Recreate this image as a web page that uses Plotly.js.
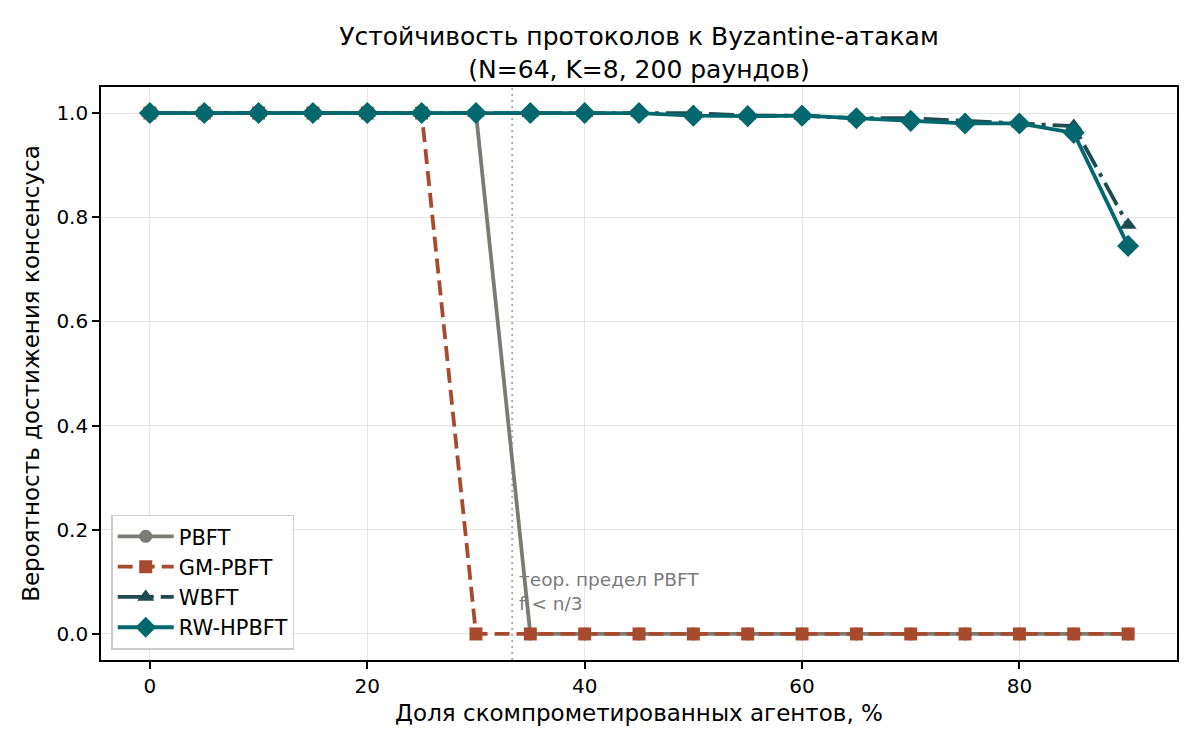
<!DOCTYPE html>
<html>
<head>
<meta charset="utf-8">
<script src="https://cdn.plot.ly/plotly-3.0.1.min.js"></script>
<style>
  html, body { margin: 0; padding: 0; background: #fff; }
  #chart { width: 1200px; height: 750px; }
</style>
</head>
<body>
<div id="chart"></div>
<script>
// share of compromised agents, %
var attackShare = [0, 5, 10, 15, 20, 25, 30, 35, 40, 45, 50, 55, 60, 65, 70, 75, 80, 85, 90];

// consensus probability per protocol
var pbft    = [1, 1, 1, 1, 1, 1, 1, 0, 0, 0, 0, 0, 0, 0, 0, 0, 0, 0, 0];
var gmPbft  = [1, 1, 1, 1, 1, 1, 0, 0, 0, 0, 0, 0, 0, 0, 0, 0, 0, 0, 0];
var wbft    = [1, 1, 1, 1, 1, 1, 1, 1, 1, 1, 1.0, 0.995, 0.995, 0.99, 0.99, 0.985, 0.98, 0.975, 0.785];
var rwHpbft = [1, 1, 1, 1, 1, 1, 1, 1, 1, 1, 0.995, 0.994, 0.995, 0.99, 0.985, 0.98, 0.98, 0.962, 0.745];

var pbftLimit = 100 / 3;

var FONT = "DejaVu Sans, Verdana, sans-serif";
var LW = 3.8;

var traces = [
  { name: "PBFT", x: attackShare, y: pbft, type: "scatter", mode: "lines+markers",
    line: { color: "#7b7b74", width: LW },
    marker: { symbol: "circle", size: 13, color: "#7b7b74" } },
  { name: "GM-PBFT", x: attackShare, y: gmPbft, type: "scatter", mode: "lines+markers",
    line: { color: "#a84a2e", width: LW, dash: "15px,7px" },
    marker: { symbol: "square", size: 13, color: "#a84a2e" } },
  { name: "WBFT", x: attackShare, y: wbft, type: "scatter", mode: "lines+markers",
    line: { color: "#1e4a50", width: LW, dash: "25px,7px,4px,7px" },
    marker: { symbol: "triangle-up", size: 15, color: "#1e4a50" } },
  { name: "RW-HPBFT", x: attackShare, y: rwHpbft, type: "scatter", mode: "lines+markers",
    line: { color: "#02686d", width: LW },
    marker: { symbol: "diamond", size: 17, color: "#02686d" } }
];

var axisCommon = {
  showline: true, linecolor: "#000", linewidth: 1.6, mirror: true,
  ticks: "outside", ticklen: 7, tickwidth: 1.6, tickcolor: "#000",
  showgrid: true, gridcolor: "#e6e6e6", gridwidth: 1.4,
  zeroline: false,
  tickfont: { family: FONT, size: 20, color: "#000" }
};

var layout = {
  width: 1200, height: 750,
  paper_bgcolor: "#fff", plot_bgcolor: "#fff",
  margin: { l: 101, r: 23, t: 87, b: 90 },
  font: { family: FONT, color: "#000" },
  title: {
    text: "Устойчивость протоколов к Byzantine-атакам<br>(N=64, K=8, 200 раундов)",
    font: { family: FONT, size: 25, color: "#000" },
    xref: "paper", x: 0.5, xanchor: "center", y: 0.94, yanchor: "top"
  },
  xaxis: Object.assign({}, axisCommon, {
    range: [-4.5, 94.5], tickvals: [0, 20, 40, 60, 80],
    title: { text: "Доля скомпрометированных агентов, %", font: { family: FONT, size: 23 }, standoff: 8 }
  }),
  yaxis: Object.assign({}, axisCommon, {
    range: [-0.05, 1.05], tickvals: [0, 0.2, 0.4, 0.6, 0.8, 1.0], ticktext: ["0.0", "0.2", "0.4", "0.6", "0.8", "1.0"],
    title: { text: "Вероятность достижения консенсуса", font: { family: FONT, size: 23 }, standoff: 10 }
  }),
  legend: {
    x: 0.0095, y: 0.018, xanchor: "left", yanchor: "bottom",
    bgcolor: "rgba(255,255,255,0.85)", bordercolor: "#cccccc", borderwidth: 1.5,
    font: { family: FONT, size: 21, color: "#000" },
    tracegroupgap: 0, itemwidth: 56
  },
  shapes: [{
    type: "line", xref: "x", yref: "paper", x0: pbftLimit, x1: pbftLimit, y0: 0, y1: 1,
    line: { color: "#aaaaaa", width: 1.8, dash: "2px,4px" }, layer: "below"
  }],
  annotations: [{
    xref: "x", yref: "y", x: pbftLimit + 0.45, y: 0.034, xanchor: "left", yanchor: "bottom",
    text: "теор. предел PBFT<br>f < n/3", showarrow: false, align: "left",
    font: { family: FONT, size: 18.5, color: "#7a7a7a" }
  }]
};

Plotly.newPlot("chart", traces, layout, { displayModeBar: false, responsive: false });
</script>
</body>
</html>
